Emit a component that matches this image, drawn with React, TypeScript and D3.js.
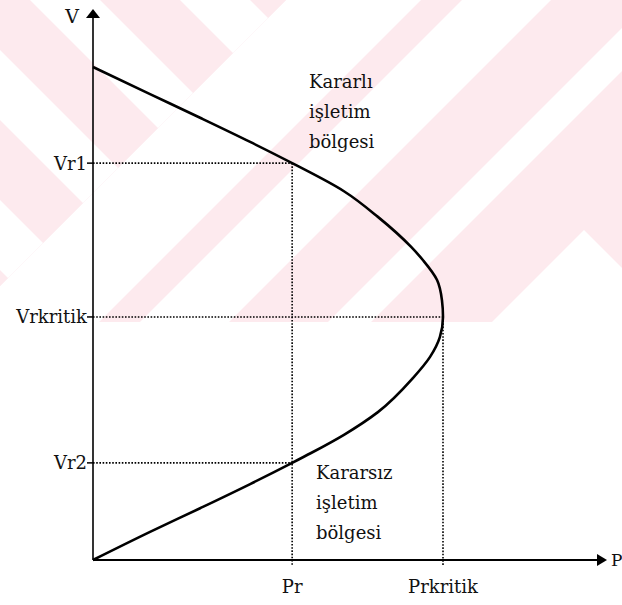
import React from "react";
import * as d3 from "d3";

const W = 622;
const H = 605;

// PV nose curve, normalised units: P / Prkritik, V / V(P=0)
const upperP = [0, 0.163, 0.306, 0.449, 0.569, 0.717, 0.814, 0.909, 0.943, 0.983, 0.997, 1.0];
const upperV = [1.0, 0.945, 0.897, 0.848, 0.805, 0.748, 0.696, 0.635, 0.608, 0.568, 0.527, 0.493];
const lowerP = [0.991, 0.963, 0.914, 0.814, 0.717, 0.623, 0.569, 0.449, 0.306, 0.163, 0];
const lowerV = [0.452, 0.412, 0.369, 0.3, 0.254, 0.217, 0.197, 0.154, 0.105, 0.057, 0];

const yTickLabels = ["Vr1", "Vrkritik", "Vr2"];
const yTickValues = [0.805, 0.493, 0.197];
const xTickLabels = ["Pr", "Prkritik"];
const xTickValues = [0.569, 1.0];

const stableText = ["Kararlı", "işletim", "bölgesi"];
const unstableText = ["Kararsız", "işletim", "bölgesi"];

const FONT = "'DejaVu Serif', 'Liberation Serif', serif";
const PINK = "#fdeaee";

// decorative watermark bands (diagonal offsets)
const backBandsStart = [-420, -270, -120, 30, 180];
const backBandWidth = 70;
const fwdBands: [number, number][] = [
  [286, 421],
  [462, 551],
  [650, 693],
];

export default function App() {
  const x = d3.scaleLinear().domain([0, 1]).range([93, 443]);
  const y = d3.scaleLinear().domain([0, 1]).range([560, 67]);

  const pts: [number, number][] = [
    ...upperP.map((p, i) => [p, upperV[i]] as [number, number]),
    ...lowerP.map((p, i) => [p, lowerV[i]] as [number, number]),
  ];
  const line = d3
    .line<[number, number]>()
    .x((d) => x(d[0]))
    .y((d) => y(d[1]))
    .curve(d3.curveMonotoneY);

  const x0 = x(0);
  const y0 = y(0);
  const xEnd = 598;
  const yTop = 17;
  const wmBottom = 322;

  return (
    <svg width={W} height={H} style={{ display: "block", position: "absolute", left: 0, top: 0 }}>
      <rect x={0} y={0} width={W} height={H} fill="#ffffff" />
      <defs>
        <clipPath id="wm">
          <rect x={0} y={0} width={W} height={wmBottom} />
        </clipPath>
        <clipPath id="wmLeft">
          <path d="M0,0 L286,0 L0,286 Z" />
        </clipPath>
        <clipPath id="wmRight">
          <path d="M286,0 L1400,0 L1400,1400 L0,1400 L0,286 Z" />
        </clipPath>
      </defs>
      <g clipPath="url(#wm)">
        <rect x={0} y={0} width={W} height={wmBottom} fill={PINK} />
        <g clipPath="url(#wmLeft)">
          {backBandsStart.map((a, i) => (
            <path
              key={"b" + i}
              d={`M${a},0 L${a + backBandWidth},0 L${a + backBandWidth + 800},800 L${a + 800},800 Z`}
              fill="#fff"
            />
          ))}
        </g>
        <g clipPath="url(#wmRight)">
          {fwdBands.map(([a, b], i) => (
            <path key={"f" + i} d={`M${a},0 L${b},0 L${b - 800},800 L${a - 800},800 Z`} fill="#fff" />
          ))}
          <path d="M584,230 L984,630 L184,630 Z" fill="#fff" />
        </g>
      </g>

      {/* dotted guide lines */}
      <g stroke="#000" strokeWidth={1.6} strokeDasharray="1.6 1.6" fill="none">
        {yTickValues.map((v, i) => (
          <line key={"h" + i} x1={x0} x2={x(i === 1 ? xTickValues[1] : xTickValues[0])} y1={y(v)} y2={y(v)} />
        ))}
        <line x1={x(xTickValues[0])} x2={x(xTickValues[0])} y1={y(yTickValues[0])} y2={y0 + 6} />
        <line x1={x(xTickValues[1])} x2={x(xTickValues[1])} y1={y(yTickValues[1])} y2={y0 + 6} />
      </g>

      {/* axes */}
      <line x1={x0} x2={x0} y1={y0} y2={yTop} stroke="#000" strokeWidth={1.6} />
      <path d={`M${x0},9 L${x0 - 7},${yTop + 1} L${x0 + 7},${yTop + 1} Z`} fill="#000" />
      <line x1={x0} x2={xEnd} y1={y0} y2={y0} stroke="#000" strokeWidth={2.2} />
      <path d={`M607,${y0} L${xEnd - 1},${y0 - 6} L${xEnd - 1},${y0 + 6} Z`} fill="#000" />

      {/* y ticks */}
      {yTickValues.map((v, i) => (
        <g key={"yt" + i}>
          <line x1={x0 - 6} x2={x0} y1={y(v)} y2={y(v)} stroke="#000" strokeWidth={1.5} />
          <text x={x0 - 6} y={y(v) + 6.5} textAnchor="end" fontFamily={FONT} fontSize={18} fill="#111">
            {yTickLabels[i]}
          </text>
        </g>
      ))}
      {xTickValues.map((v, i) => (
        <text key={"xt" + i} x={x(v)} y={593} textAnchor="middle" fontFamily={FONT} fontSize={18} fill="#111">
          {xTickLabels[i]}
        </text>
      ))}
      <text x={72} y={23} textAnchor="middle" fontFamily={FONT} fontSize={19} fill="#111">V</text>
      <text x={611} y={566} fontFamily={FONT} fontSize={17} fill="#111">P</text>

      {/* curve */}
      <path d={line(pts) || ""} fill="none" stroke="#000" strokeWidth={2.6} strokeLinejoin="round" />

      {/* region labels */}
      {stableText.map((t, i) => (
        <text key={"s" + i} x={309} y={88 + i * 30} fontFamily={FONT} fontSize={18} fill="#111">{t}</text>
      ))}
      {unstableText.map((t, i) => (
        <text key={"u" + i} x={316} y={479 + i * 30} fontFamily={FONT} fontSize={18} fill="#111">{t}</text>
      ))}
    </svg>
  );
}
